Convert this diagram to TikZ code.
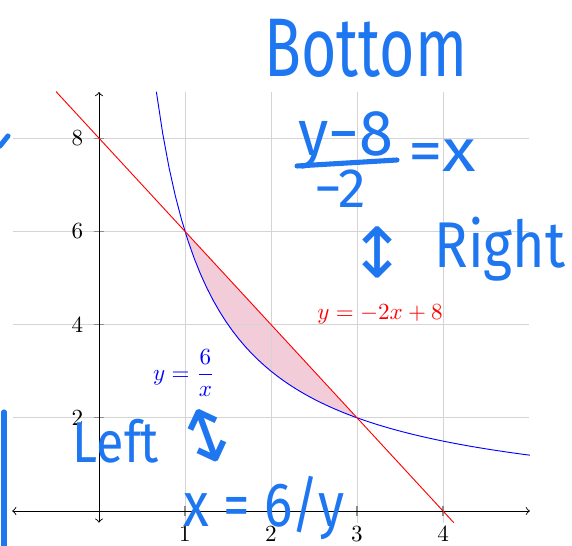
\documentclass[tikz,border=0pt]{standalone}
\usepackage{fontspec}
\newfontfamily\handfont{Fira Sans}
\newfontfamily\symfont{DejaVu Sans}
\definecolor{hblue}{RGB}{30,118,240}
\definecolor{gridgray}{RGB}{212,212,212}
\begin{document}
\begin{tikzpicture}[x=0.433pt,y=-0.433pt,
  hand/.style={text=hblue,inner sep=0pt},
  stroke/.style={draw=hblue,line width=2.2pt,line cap=round},
  gridline/.style={draw=gridgray,line width=0.4pt},
  tickmark/.style={draw=black!45,line width=0.5pt},
  axisline/.style={draw=black,line width=0.4pt},
  ticklabel/.style={inner sep=0pt}]
\useasboundingbox (0,0) rectangle (572,546);

\begin{scope}[shift={(99,511)},x=37.24pt,y=20.18pt]
  % shaded region
  \fill[purple!20] (1,6) -- (3,2) -- plot[domain=3:1,samples=40] (\x,{6/\x}) -- cycle;
  % grid
  \foreach \i in {1,2,3,4} \draw[gridline] (\i,-0.25) -- (\i,9);
  \foreach \j in {2,4,6,8} \draw[gridline] (-1,\j) -- (5,\j);
  % ticks
  \foreach \i in {1,2,3,4} \draw[tickmark] (\i,0) ++(0,-2.1pt) -- ++(0,4.2pt);
  \foreach \j in {2,4,6,8} \draw[tickmark] (0,\j) ++(-2.1pt,0) -- ++(4.2pt,0);
  % axes
  \coordinate (xl) at (-1.01,0);
  \coordinate (xr) at (5.01,0);
  \coordinate (yb) at (0,-0.25);
  \coordinate (yt) at (0,8.99);
  \draw[axisline,<->] (xl) -- (xr);
  \draw[axisline,<->] (yb) -- (yt);
  % tick labels
  \foreach \i in {1,2,3,4} \node[ticklabel] (xt\i) at ([yshift=-10.2pt]\i,0) {$\i$};
  \foreach \j in {2,4,6,8} \node[ticklabel] (yt\j) at ([xshift=-9.3pt]0,\j) {$\j$};
  % curves
  \draw[blue,line width=0.4pt] plot[domain=0.667:5.01,samples=60] (\x,{6/\x});
  \coordinate (rl) at (-0.5,9);
  \coordinate (rr) at (4.125,-0.25);
  \draw[red,line width=0.4pt] (rl) -- (rr);
  % labels
  \node[anchor=base,text=red,inner sep=0pt] (lred) at (3.267,4.099) {$y=-2x+8$};
  \node[text=blue,inner sep=0pt] (lblue) at (0.988,2.961) {$y=\displaystyle\frac{6}{x}$};
\end{scope}

% handwritten annotations
\node[hand,anchor=base] (bottom) at (366,77)
  {\handfont\fontsize{36}{40}\selectfont\scalebox{0.73}[1]{Bottom}};
\node[hand,anchor=base] (num) at (346,156)
  {\handfont\fontsize{28}{32}\selectfont\scalebox{0.95}[1]{y−8}};
\coordinate (barl) at (297,166);
\coordinate (barr) at (397,160);
\draw[stroke] (barl) -- (barr);
\node[hand,anchor=base] (den) at (340,208)
  {\handfont\fontsize{24}{28}\selectfont −2};
\node[hand,anchor=base west] (eqx) at (408,172)
  {\handfont\fontsize{26}{28}\selectfont\scalebox{1.15}[1]{=x}};
\node[hand] (arrR) at (378,252)
  {\symfont\fontsize{30}{34}\selectfont ↕};
\node[hand,anchor=base] (right) at (500,268)
  {\handfont\fontsize{28}{32}\selectfont\scalebox{0.86}[1]{Right}};
\node[hand,anchor=base] (left) at (116,463)
  {\handfont\fontsize{25}{28}\selectfont\scalebox{0.87}[1]{Left}};
\node[hand,rotate=20] (arrL) at (207,436)
  {\symfont\fontsize{32}{34}\selectfont ↕};
\node[hand,anchor=base] (xeq) at (264,527)
  {\handfont\fontsize{27}{32}\selectfont\scalebox{0.85}[1]{x = 6/y}};
% cut-off strokes at the left edge
\coordinate (s1a) at (4,412);
\coordinate (s1b) at (4,546);
\draw[stroke] (s1a) -- (s1b);
\coordinate (s2a) at (0,146);
\coordinate (s2b) at (8,136);
\draw[stroke] (s2a) -- (s2b);
\end{tikzpicture}
\end{document}
